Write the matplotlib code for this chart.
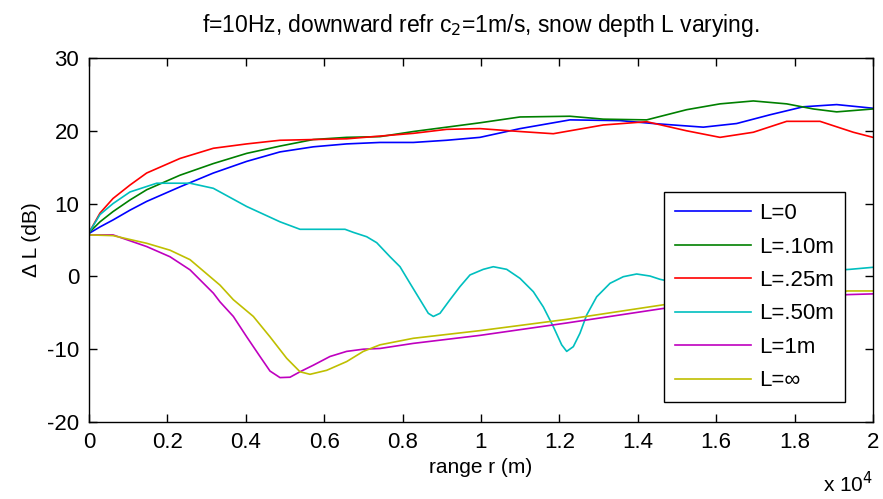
import numpy as np
import matplotlib
matplotlib.use('Agg')
import matplotlib.pyplot as plt

plt.rcParams['font.family'] = ['Liberation Sans', 'DejaVu Sans']
plt.rcParams['font.size'] = 16
plt.rcParams['axes.unicode_minus'] = False

# values (x in metres, y in dB)
x_l0 = [0, 281, 612, 1046, 1471, 2321, 3172, 4023, 4872, 5722, 6573, 7423, 8274, 9125, 9974,
        10995, 12270, 13546, 14396, 15672, 16522, 17372, 18223, 19073, 20000]
y_l0 = [5.9, 6.8, 7.75, 9.1, 10.3, 12.3, 14.2, 15.8, 17.1, 17.8, 18.2, 18.4, 18.4, 18.7, 19.1,
        20.3, 21.5, 21.4, 21.0, 20.5, 21.0, 22.2, 23.3, 23.6, 23.1]

x_l10 = [0, 281, 612, 1046, 1471, 2321, 3172, 4023, 4872, 5722, 6573, 7423, 8274, 9125, 9974,
         10995, 12270, 13121, 14226, 15247, 16097, 16947, 17798, 18478, 19073, 20000]
y_l10 = [6.0, 7.5, 8.9, 10.5, 11.9, 13.9, 15.5, 16.9, 17.9, 18.8, 19.1, 19.2, 19.9, 20.5, 21.1,
         21.9, 22.0, 21.6, 21.5, 22.9, 23.7, 24.1, 23.7, 23.0, 22.6, 23.0]

x_l25 = [0, 281, 612, 1046, 1471, 2321, 3172, 4023, 4872, 6573, 8274, 9125, 9974,
         10995, 11844, 13121, 14226, 15247, 16097, 16947, 17798, 18648, 19498, 20000]
y_l25 = [6.0, 8.7, 10.7, 12.55, 14.2, 16.2, 17.6, 18.2, 18.7, 18.9, 19.65, 20.2, 20.3,
         19.9, 19.6, 20.8, 21.25, 20.0, 19.1, 19.8, 21.3, 21.3, 19.8, 19.1]

x_l50 = [0, 281, 612, 1046, 1727, 2577, 3172, 4023, 4872, 5383, 6531, 6743, 7084, 7340, 7679,
         7934, 8189, 8444, 8656, 8784, 8954, 9209, 9464, 9719, 10059, 10314, 10655, 10995,
         11335, 11590, 11845, 12058, 12186, 12355, 12525, 12696, 12951, 13291, 13631, 13971,
         14311, 14566, 14651, 16000, 17000, 18000, 19413, 20000]
y_l50 = [6.0, 8.5, 10.0, 11.6, 12.8, 12.8, 12.1, 9.6, 7.5, 6.47, 6.47, 6.05, 5.45, 4.63, 2.7,
         1.33, -0.95, -3.2, -5.07, -5.5, -5.07, -3.2, -1.4, 0.2, 0.97, 1.33, 0.97, -0.27,
         -2.1, -4.2, -6.9, -9.4, -10.3, -9.65, -7.8, -5.3, -2.8, -0.95, -0.04, 0.33,
         0.05, -0.4, -0.5, -1.0, 0.0, 0.5, 0.97, 1.25]

x_l1 = [0, 612, 1471, 2066, 2577, 3172, 3342, 3682, 4023, 4362, 4617, 4872, 5128, 5383, 5722,
        6148, 6573, 6998, 7423, 8274, 9974, 12186, 14652, 19362, 20000]
y_l1 = [5.7, 5.7, 4.1, 2.7, 0.9, -2.3, -3.5, -5.5, -8.3, -11.0, -13.0, -13.9, -13.85, -13.1, -12.2,
        -11.0, -10.3, -10.0, -9.9, -9.2, -8.1, -6.4, -4.4, -2.5, -2.4]

x_linf = [0, 612, 1471, 2066, 2577, 3342, 3682, 4192, 4617, 5043, 5383, 5638, 6063, 6573, 6998,
          7423, 8274, 9974, 12186, 14652, 19362, 20000]
y_linf = [5.7, 5.6, 4.55, 3.6, 2.3, -1.2, -3.2, -5.5, -8.3, -11.25, -13.1, -13.45, -12.9, -11.7, -10.3,
          -9.4, -8.5, -7.45, -5.9, -3.9, -2.0, -2.0]

labels = ['L=0', 'L=.10m', 'L=.25m', 'L=.50m', 'L=1m', 'L=\u221e']
colors = ['#0000ff', '#008000', '#ff0000', '#00bfbf', '#bf00bf', '#bfbf00']
xticks = np.arange(0, 20001, 2000)
xticklabels = ['0', '0.2', '0.4', '0.6', '0.8', '1', '1.2', '1.4', '1.6', '1.8', '2']

W, H = 883, 499
fig = plt.figure(figsize=(W / 100, H / 100), dpi=100)
ax = fig.add_axes([89 / W, 77 / H, 784 / W, 364 / H])

series = [(x_l0, y_l0), (x_l10, y_l10), (x_l25, y_l25), (x_l50, y_l50), (x_l1, y_l1), (x_linf, y_linf)]
for (xs, ys), lab, c in zip(series, labels, colors):
    ax.plot(xs, ys, color=c, lw=1.2, label=lab)

ax.set_xlim(0, 20000)
ax.set_ylim(-20, 30)
ax.set_xticks(xticks)
ax.set_xticklabels(xticklabels)
ax.set_yticks(np.arange(-20, 31, 10))
ax.tick_params(direction='in', length=6, width=1, top=True, right=True, pad=7)
for s in ax.spines.values():
    s.set_linewidth(1)

ax.set_title('f=10Hz, downward refr c$_2$=1m/s, snow depth L varying.', fontsize=16.5, pad=19)
ax.set_xlabel('range r (m)', fontsize=15, labelpad=4)
ax.set_ylabel('\u0394 L (dB)', fontsize=15, labelpad=4)
fig.text(873 / W, 1 - 492 / H, 'x 10$^4$', fontsize=15, ha='right', va='baseline')

# legend box: left 664 px, top 192 px
leg = ax.legend(loc='upper left', bbox_to_anchor=((664 - 89) / 784, (422 - 192) / 364),
                frameon=True, fancybox=False, edgecolor='black', framealpha=1,
                handlelength=3.4, handletextpad=0.36, labelspacing=0.56, borderpad=0.5,
                borderaxespad=0)
leg.get_frame().set_linewidth(1)

fig.savefig('out.png', dpi=100)
